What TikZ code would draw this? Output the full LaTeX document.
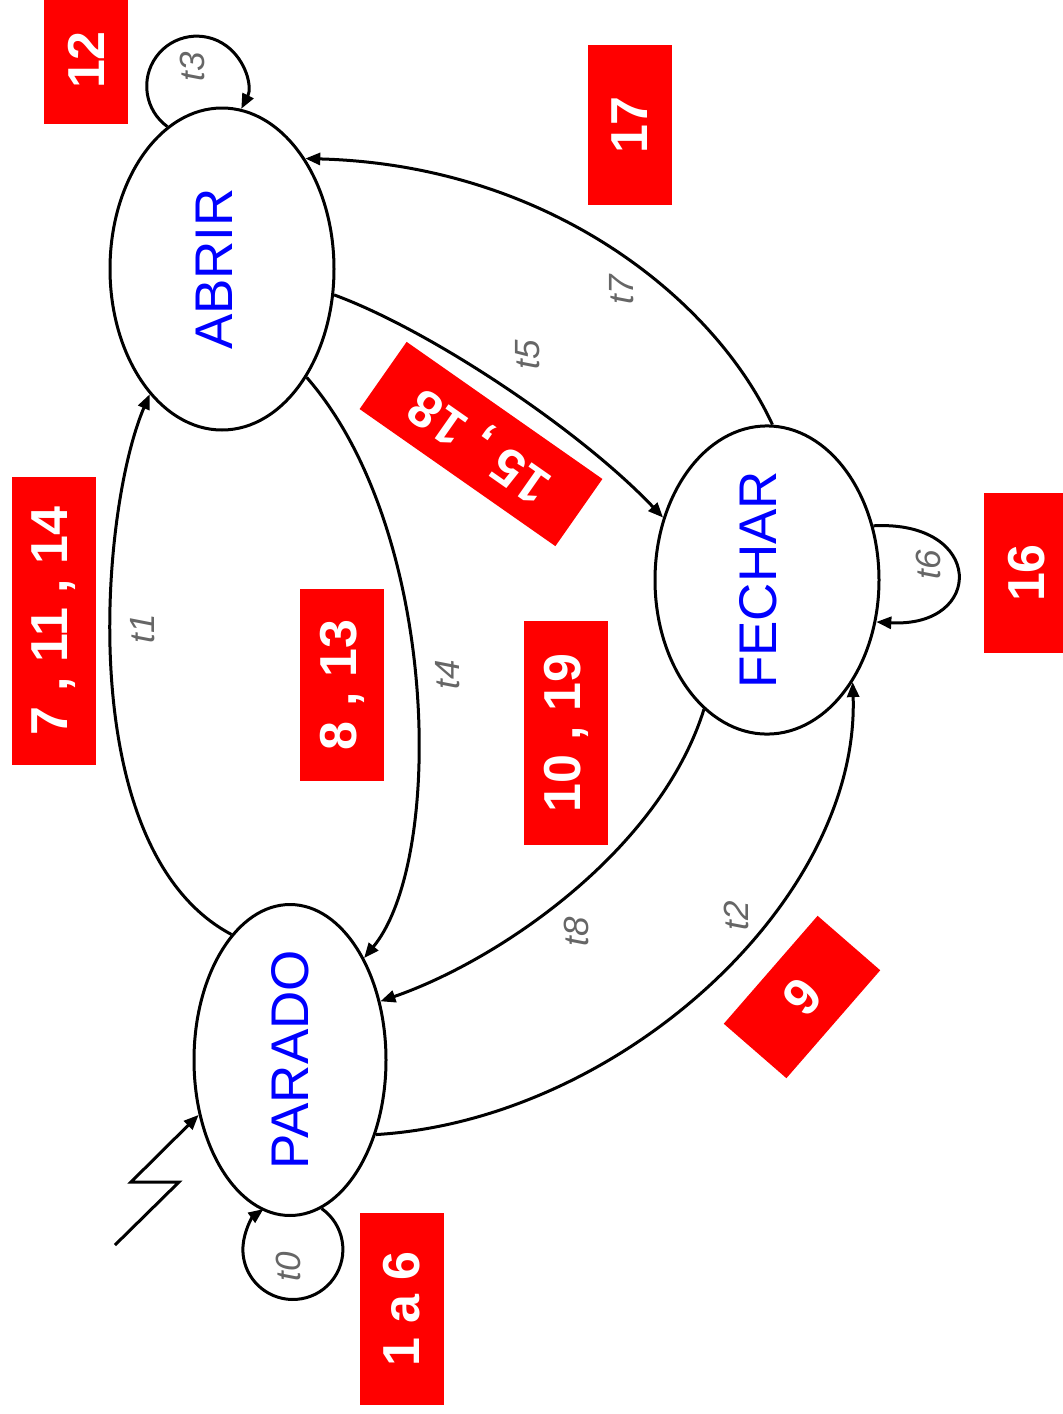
\documentclass[tikz,border=0pt]{standalone}
\usepackage{fontspec}
\setmainfont{Liberation Sans}
\usetikzlibrary{arrows.meta,shapes.geometric}
\definecolor{lblgray}{RGB}{102,102,102}
\definecolor{boxred}{RGB}{255,0,0}
\definecolor{stateblue}{RGB}{0,0,255}
\begin{document}
\begin{tikzpicture}[x=1pt,y=1pt,
  state/.style={ellipse,draw=black,line width=3pt,inner sep=0pt,
    text=stateblue,font=\fontsize{53}{60}\selectfont},
  redbox/.style={fill=boxred,text=white,inner sep=0pt,rotate=90,
    minimum height=84pt,font=\fontsize{52}{60}\selectfont\bfseries},
  tlabel/.style={text=lblgray,rotate=90,inner sep=0pt,
    font=\fontsize{35}{40}\selectfont\itshape},
  edge/.style={line width=3pt,-{Triangle[length=15pt,width=12pt]}},
  plain/.style={line width=3pt}]
\useasboundingbox (0,0) rectangle (1063,-1414);

% states
\node[state,minimum width=224pt,minimum height=322pt] (abrir) at (222,-269) {\rotatebox{90}{\raisebox{8pt}[\height][\depth]{ABRIR}}};
\node[state,minimum width=224pt,minimum height=304pt] (fechar) at (767,-580) {\rotatebox{90}{\raisebox{9pt}[\height][\depth]{FECHAR}}};
\node[state,minimum width=192pt,minimum height=304pt] (parado) at (290,-1060) {\rotatebox{90}{PARADO}};

% red boxes
\node[redbox,minimum width=128pt] (b12) at (86,-60) {12};
\node[redbox,minimum width=160pt] (b17) at (630,-125) {17};
\node[redbox,minimum width=288pt] (b71114) at (54,-621) {7 , 11 , 14};
\node[redbox,minimum width=192pt] (b813) at (342,-685) {8 , 13};
\node[redbox,minimum width=224pt] (b1019) at (566,-733) {10 , 19};
\node[redbox,minimum width=160pt,minimum height=86pt] (b16) at (1027,-573) {16};
\node[redbox,minimum width=192pt] (b1a6) at (402,-1309) {1 a 6};
\node[redbox,rotate=55,minimum width=239pt,minimum height=82pt] (b1518) at (481,-444) {15 , 18};
\node[redbox,rotate=-41,minimum width=143pt,minimum height=83pt] (b9) at (802,-997) {9};

% transition labels
\node[tlabel] (lt3) at (192,-67) {t3};
\node[tlabel] (lt7) at (622,-290) {t7};
\node[tlabel] (lt5) at (528,-355) {t5};
\node[tlabel] (lt6) at (928,-565) {t6};
\node[tlabel] (lt1) at (143,-629) {t1};
\node[tlabel] (lt4) at (448,-675) {t4};
\node[tlabel] (lt8) at (576,-932) {t8};
\node[tlabel] (lt2) at (736,-916) {t2};
\node[tlabel] (lt0) at (288,-1267) {t0};

% self loops
\draw[edge] (abrir.111) arc[start angle=234,end angle=-27,radius=50];
\draw[edge] (parado.-78) arc[start angle=55,end angle=-234,radius=50];
\draw[edge] (fechar.27) .. controls (985,-520) and (985,-628) .. (fechar.-21);

% transitions
\draw[edge] (parado.115) .. controls (72,-850) and (100,-510) .. (abrir.240);
\draw[edge] (abrir.-52) .. controls (440,-530) and (445,-860) .. (parado.54);
\draw[edge] (abrir.-13) .. controls (430,-330) and (580,-430) .. (fechar.149);
\draw[edge] (fechar.88) .. controls (715,-300) and (550,-165) .. (abrir.53);
\draw[edge] (fechar.244) .. controls (660,-850) and (500,-960) .. (parado.33);
\draw[edge] (parado.-41.5) .. controls (620,-1120) and (860,-900) .. (fechar.-50);

% initial arrow
\coordinate (i0) at (115,-1245);
\coordinate (i1) at (179,-1182);
\coordinate (i2) at (131,-1182);
\draw[edge] (i0) -- (i1) -- (i2) -- (parado.211);
\end{tikzpicture}
\end{document}
